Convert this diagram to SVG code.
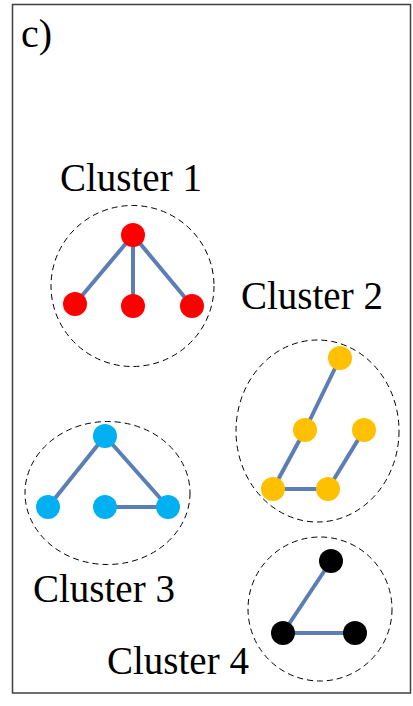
<svg xmlns="http://www.w3.org/2000/svg" width="413" height="706" viewBox="0 0 413 706">
<style>
.lbl{font-family:'Liberation Serif','Times New Roman',Tinos,'DejaVu Serif',serif;font-size:39px;fill:#000}
.cl{fill:none;stroke:#000;stroke-width:1;stroke-dasharray:6,4}
.e{stroke:#5b7fb5;stroke-width:4;stroke-linecap:round}
.r{fill:#ff0000}.y{fill:#ffc000}.b{fill:#00b0f0}.k{fill:#000}
</style>
<rect x="12.5" y="4.5" width="398" height="688.5" fill="#fff" stroke="#404040" stroke-width="1.5"/>
<text class="lbl" x="21" y="47" font-family="Liberation Serif, serif" style="font-size:40px">c)</text>
<g id="connectors">
<line class="e" x1="133" y1="235" x2="75" y2="304"/>
<line class="e" x1="133" y1="235" x2="133" y2="306"/>
<line class="e" x1="133" y1="235" x2="192" y2="306"/>
<line class="e" x1="340" y1="358" x2="305" y2="430"/>
<line class="e" x1="305" y1="430" x2="273" y2="489"/>
<line class="e" x1="273" y1="489" x2="328" y2="489"/>
<line class="e" x1="328" y1="489" x2="364" y2="430"/>
<line class="e" x1="105" y1="436" x2="48" y2="507"/>
<line class="e" x1="105" y1="436" x2="168" y2="507"/>
<line class="e" x1="105" y1="507" x2="168" y2="507"/>
<line class="e" x1="331" y1="561" x2="283" y2="633"/>
<line class="e" x1="283" y1="633" x2="355" y2="633"/>
</g>
<g id="cluster1">
<ellipse class="cl" cx="132.5" cy="286" rx="81.5" ry="80.5"/>
<text class="lbl" x="60" y="191">Cluster 1</text>
<circle class="r" cx="133" cy="235" r="12"/>
<circle class="r" cx="75" cy="304" r="12"/>
<circle class="r" cx="133" cy="306" r="12"/>
<circle class="r" cx="192" cy="306" r="12"/>
</g>
<g id="cluster2">
<ellipse class="cl" cx="317.5" cy="431" rx="81.5" ry="91"/>
<text class="lbl" x="241" y="309">Cluster 2</text>
<circle class="y" cx="340" cy="358" r="12"/>
<circle class="y" cx="305" cy="430" r="12"/>
<circle class="y" cx="364" cy="430" r="12"/>
<circle class="y" cx="273" cy="489" r="12"/>
<circle class="y" cx="328" cy="489" r="12"/>
</g>
<g id="cluster3">
<ellipse class="cl" cx="107.5" cy="493" rx="82.5" ry="71.5"/>
<text class="lbl" x="33" y="602">Cluster 3</text>
<circle class="b" cx="105" cy="436" r="12"/>
<circle class="b" cx="48" cy="507" r="12"/>
<circle class="b" cx="105" cy="507" r="12"/>
<circle class="b" cx="168" cy="507" r="12"/>
</g>
<g id="cluster4">
<ellipse class="cl" cx="320" cy="609" rx="72" ry="72"/>
<text class="lbl" x="107" y="674">Cluster 4</text>
<circle class="k" cx="331" cy="561" r="12"/>
<circle class="k" cx="283" cy="633" r="12"/>
<circle class="k" cx="355" cy="633" r="12"/>
</g>
</svg>
